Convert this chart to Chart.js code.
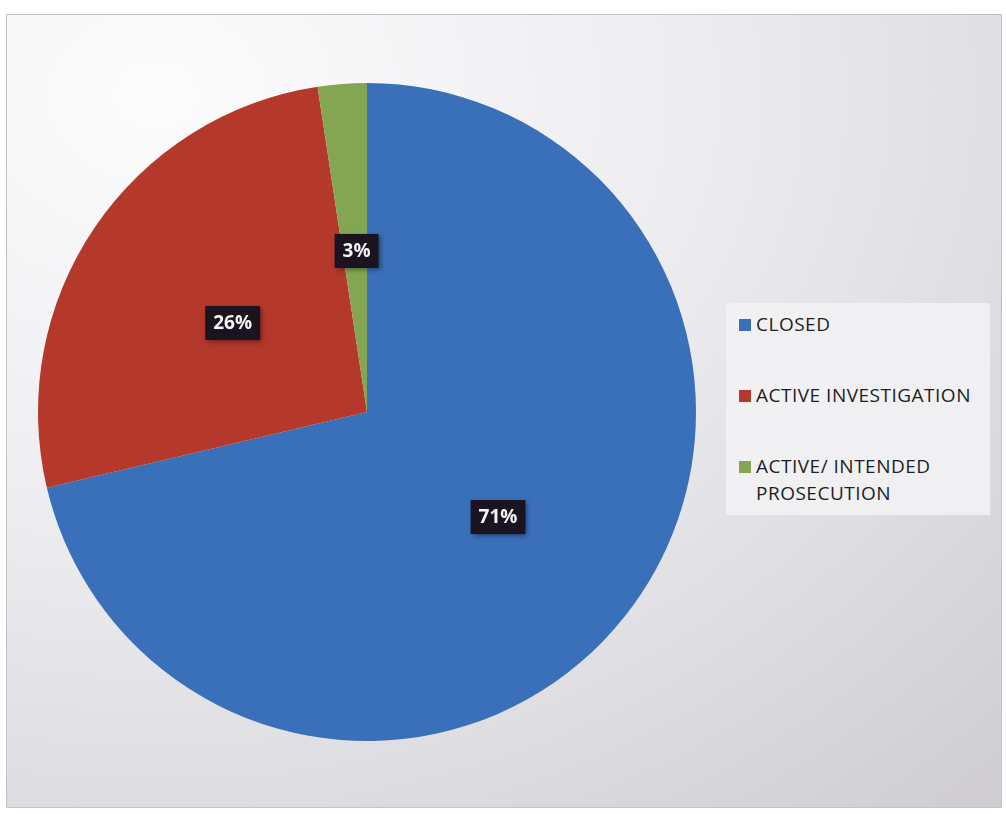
<!DOCTYPE html>
<html>
<head>
<meta charset="utf-8">
<script src="https://cdn.jsdelivr.net/npm/chart.js@4.4.1/dist/chart.umd.min.js"></script>
<style>
    html, body { margin: 0; padding: 0; background: #ffffff; }
    body { width: 1006px; height: 814px; position: relative; overflow: hidden; }
    .frame {
        position: absolute; left: 6px; top: 14px; width: 994px; height: 792px;
        border: 1px solid #c4c2c6;
        background: radial-gradient(ellipse 120% 120% at 15% 10%, #fcfcfd 0%, #ededf0 45%, #d0ced3 100%);
    }
    .pie-box { position: absolute; left: 38px; top: 83px; width: 658px; height: 658px; }
    .legend {
        position: absolute; left: 726px; top: 303px; width: 264px; height: 212px;
        background: rgba(242, 242, 244, 0.9);
        font-family: "Open Sans", sans-serif; font-size: 19px; color: #1e1e22;
        letter-spacing: 0.5px;
    }
    .legend .item { position: absolute; left: 13px; display: flex; align-items: flex-start; line-height: 27px; }
    .legend .swatch { width: 12px; height: 12px; margin-top: 8px; margin-right: 5px; flex: none; }
</style>
</head>
<body>
<div class="frame"></div>
<div class="pie-box"><canvas id="pie"></canvas></div>
<div class="legend" id="legend"></div>
<script>
const categories = ["CLOSED", "ACTIVE INVESTIGATION", "ACTIVE/ INTENDED PROSECUTION"];
const legendLines = [["CLOSED"], ["ACTIVE INVESTIGATION"], ["ACTIVE/ INTENDED", "PROSECUTION"]];
const shares = [71.3, 26.3, 2.4];
const percentLabels = ["71%", "26%", "3%"];
const colors = ["#3a70ba", "#b5392a", "#84a653"];
const legendTops = [8, 79, 150];

function renderLegend() {
    const legend = document.querySelector("#legend");
    legendLines.forEach((lines, i) => {
        const item = document.createElement("div");
        item.classList.add("item");
        item.style.top = legendTops[i] + "px";
        const swatch = document.createElement("span");
        swatch.classList.add("swatch");
        swatch.style.background = colors[i];
        const text = document.createElement("span");
        text.innerHTML = lines.join("<br>");
        item.append(swatch, text);
        legend.appendChild(item);
    });
}

// dark boxes with the percent in the middle of each slice
const labelBoxes = {
    id: "labelBoxes",
    afterDatasetsDraw(chart) {
        const {ctx} = chart;
        const meta = chart.getDatasetMeta(0);
        ctx.save();
        ctx.font = "bold 19px 'Open Sans', sans-serif";
        ctx.textAlign = "center";
        ctx.textBaseline = "middle";
        meta.data.forEach((arc, i) => {
            const pos = arc.tooltipPosition();
            const x = pos.x + 2, y = pos.y + 3;
            const text = percentLabels[i];
            const w = ctx.measureText(text).width + 16;
            const h = 34;
            ctx.shadowColor = "rgba(0,0,0,0.45)";
            ctx.shadowBlur = 5;
            ctx.shadowOffsetX = 2;
            ctx.shadowOffsetY = 2;
            ctx.fillStyle = "#1b1420";
            ctx.fillRect(x - w / 2, y - h / 2, w, h);
            ctx.shadowColor = "transparent";
            ctx.fillStyle = "#f4f4f4";
            ctx.fillText(text, x, y + 1);
        });
        ctx.restore();
    }
};

function renderPie() {
    new Chart(document.querySelector("#pie"), {
        type: "pie",
        data: {
            labels: categories,
            datasets: [{
                data: shares,
                backgroundColor: colors,
                borderWidth: 0,
            }]
        },
        options: {
            maintainAspectRatio: false,
            animation: false,
            layout: {padding: 0},
            plugins: {
                legend: {display: false},
                tooltip: {enabled: false},
            }
        },
        plugins: [labelBoxes]
    });
}

renderLegend();
renderPie();
</script>
</body>
</html>
